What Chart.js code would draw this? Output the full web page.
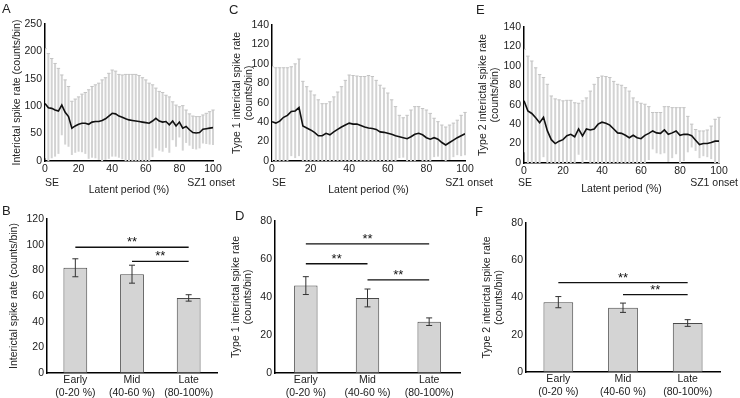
<!DOCTYPE html>
<html lang="en">
<head>
  <meta charset="UTF-8">
  <title>Interictal spike rate across the latent period</title>
  <script src="https://cdn.jsdelivr.net/npm/chart.js"></script>
  <style>
    body { margin: 0; background: #fff; }
    #fig {
      position: relative;
      width: 740px;
      height: 398px;
      overflow: hidden;
      font-family: "Liberation Sans", Arial, sans-serif;
    }
    #fig canvas { position: absolute; }
    .letter {
      position: absolute;
      font-size: 13px;
      color: #222;
      line-height: 13px;
    }
  </style>
</head>
<body>
<div id="fig">
  <canvas id="chartA" width="245" height="200" style="left:0;top:0"></canvas>
  <canvas id="chartC" width="275" height="200" style="left:225px;top:0"></canvas>
  <canvas id="chartE" width="270" height="200" style="left:470px;top:0"></canvas>
  <canvas id="chartB" width="235" height="198" style="left:0;top:200px"></canvas>
  <canvas id="chartD" width="250" height="198" style="left:225px;top:200px"></canvas>
  <canvas id="chartF" width="265" height="198" style="left:475px;top:200px"></canvas>
  <div class="letter" style="left:2px;top:2px">A</div>
  <div class="letter" style="left:229px;top:3px">C</div>
  <div class="letter" style="left:476px;top:3px">E</div>
  <div class="letter" style="left:2px;top:204px">B</div>
  <div class="letter" style="left:235px;top:209px">D</div>
  <div class="letter" style="left:475px;top:205px">F</div>
</div>

<script>
  // latent period bins (%)
  var latentPct = [0, 2, 4, 6, 8, 10, 12, 14, 16, 18, 20, 22, 24, 26, 28, 30, 32, 34, 36, 38, 40,
    42, 44, 46, 48, 50, 52, 54, 56, 58, 60, 62, 64, 66, 68, 70, 72, 74, 76, 78, 80,
    82, 84, 86, 88, 90, 92, 94, 96, 98, 100];

  // A: all interictal spikes, mean and SD (counts/bin)
  var meanA = [105, 97, 96, 93, 91, 102, 89, 81, 60, 64, 67, 69, 69, 67, 71, 72, 72, 74, 77, 82, 87,
    86, 82, 80, 77, 75, 74, 73, 72, 71, 70, 69, 73, 78, 73, 71, 72, 66, 73, 64, 71,
    60, 63, 57, 52, 51, 52, 58, 59, 60, 61];
  var sdA = [100, 99, 91, 85, 78, 55, 59, 55, 49, 49, 50, 53, 56, 63, 65, 67, 70, 74, 75, 78, 79,
    78, 76, 77, 81, 83, 84, 85, 84, 81, 78, 73, 66, 55, 54, 54, 48, 51, 35, 38, 28,
    41, 30, 29, 30, 30, 29, 26, 28, 30, 32];

  // C: type 1 spikes
  var meanC = [40.5, 39, 41, 45, 47, 51, 51.5, 55, 36, 34, 32, 29.5, 26, 26, 28.5, 27, 30, 32.5, 35, 37, 39,
    38, 38, 36.5, 35, 34, 33.5, 32.5, 30, 29.5, 28.5, 27.5, 26, 25, 24, 23, 25, 27.5, 28.5, 27, 24,
    22.5, 24, 22.5, 19, 16.5, 19, 21.5, 24, 26, 28];
  var sdC = [56.5, 57, 55, 51, 49, 46, 48.5, 50, 46, 42.5, 40, 38.5, 37, 33, 30.5, 34, 36, 38.5, 41.5, 46, 49.5,
    50, 49.5, 50.5, 52, 54, 53.5, 50.5, 48, 45.5, 41.5, 35.5, 30, 22, 20.5, 24, 27.5, 28.5, 27.5, 27, 28.5,
    26.5, 20, 18, 18, 18.5, 18, 17.5, 18, 21, 22];

  // E: type 2 spikes
  var meanE = [64, 53.5, 51, 46.5, 41.5, 47, 33, 24, 20, 22.5, 24, 28, 29.5, 27, 35, 28, 35, 34, 35, 40, 42,
    41, 39, 35, 31, 30.5, 28.5, 26, 28.5, 26, 25, 28.5, 30.5, 33, 31, 30.5, 34, 29.5, 31, 33, 28.5,
    29.5, 29.5, 28, 23.5, 19, 20, 20, 21, 22.5, 22.5];
  var sdE = [53, 56.5, 54, 51.5, 49.5, 41, 48, 45, 46, 42.5, 40, 36.5, 35, 35, 26.5, 36, 32, 40, 46, 48, 47.5,
    48, 49, 49, 50, 49.5, 49, 48, 38.5, 37, 36.5, 32, 27.5, 19, 21, 21.5, 24, 28.5, 26, 24, 28.5,
    27.5, 18.5, 12, 11, 14, 13, 14, 17, 22.5, 24.5];

  // B, D, F: period means with error bars
  var periods = [['Early', '(0-20 %)'], ['Mid', '(40-60 %)'], ['Late', '(80-100%)']];
  var meanB = [82, 77, 58.5];
  var errB = [7, 7, 2.5];
  var meanD = [46, 39.5, 27];
  var errD = [4.7, 4.7, 2];
  var meanF = [37.5, 34.5, 26.3];
  var errF = [3, 2.5, 1.8];

  // significance brackets: [from period, to period, height]
  var sigB = [[0, 2, 98], [1, 2, 87]];
  var sigD = [[0, 2, 68], [0, 1, 57.5], [1, 2, 49]];
  var sigF = [[0, 2, 48], [1, 2, 41.5]];

  var FONT = '"Liberation Sans", Arial, sans-serif';
  var INK = '#222';

  // grey SD bars behind the mean line
  var sdBars = {
    id: 'sdBars',
    beforeDatasetsDraw: function (chart) {
      var ctx = chart.ctx, xs = chart.scales.x, ys = chart.scales.y, area = chart.chartArea;
      var ds = chart.data.datasets[0];
      ctx.save();
      ctx.beginPath();
      ctx.rect(area.left, area.top - 2, area.width + 3, area.height + 2);
      ctx.clip();
      ctx.strokeStyle = '#d3d3d3';
      ctx.lineWidth = 2;
      ds.data.forEach(function (p, i) {
        var x = xs.getPixelForValue(p.x);
        var hi = ys.getPixelForValue(p.y + ds.sd[i]);
        var lo = ys.getPixelForValue(Math.max(p.y - ds.sd[i], 0));
        ctx.beginPath();
        ctx.moveTo(x, hi); ctx.lineTo(x, lo);
        ctx.stroke();
      });
      // thin caps
      ctx.lineWidth = 1;
      ctx.strokeStyle = '#c4c4c4';
      ds.data.forEach(function (p, i) {
        var x = xs.getPixelForValue(p.x);
        var hi = ys.getPixelForValue(p.y + ds.sd[i]);
        ctx.beginPath();
        ctx.moveTo(x - 1.7, hi); ctx.lineTo(x + 1.7, hi);
        ctx.stroke();
      });
      ctx.restore();
    }
  };

  // error bars and ** brackets on the bar panels
  var barExtras = {
    id: 'barExtras',
    afterDatasetsDraw: function (chart) {
      var ctx = chart.ctx, xs = chart.scales.x, ys = chart.scales.y;
      var ds = chart.data.datasets[0];
      var bars = chart.getDatasetMeta(0).data;
      ctx.save();
      ctx.strokeStyle = '#333';
      ctx.lineWidth = 1;
      bars.forEach(function (bar, i) {
        var hi = ys.getPixelForValue(ds.data[i] + ds.err[i]);
        var lo = ys.getPixelForValue(ds.data[i] - ds.err[i]);
        ctx.beginPath();
        ctx.moveTo(bar.x, hi); ctx.lineTo(bar.x, lo);
        ctx.moveTo(bar.x - 3, hi); ctx.lineTo(bar.x + 3, hi);
        ctx.moveTo(bar.x - 3, lo); ctx.lineTo(bar.x + 3, lo);
        ctx.stroke();
      });
      ctx.strokeStyle = '#111';
      ctx.lineWidth = 1.3;
      ctx.fillStyle = '#111';
      ctx.font = '13px ' + FONT;
      ctx.textAlign = 'center';
      ctx.textBaseline = 'alphabetic';
      ds.sig.forEach(function (s) {
        var x1 = xs.getPixelForValue(s[0]), x2 = xs.getPixelForValue(s[1]);
        var y = ys.getPixelForValue(s[2]);
        ctx.beginPath();
        ctx.moveTo(x1, y); ctx.lineTo(x2, y);
        ctx.stroke();
        ctx.fillText('**', (x1 + x2) / 2, y - 1);
      });
      ctx.restore();
    }
  };

  function endLabels(seDx, szDx) {
    return {
      id: 'endLabels',
      afterDraw: function (chart) {
        var ctx = chart.ctx, area = chart.chartArea;
        ctx.save();
        ctx.fillStyle = INK;
        ctx.font = '10.5px ' + FONT;
        ctx.textBaseline = 'middle';
        ctx.textAlign = 'left';
        ctx.fillText('SE', area.left + seDx, 183);
        ctx.textAlign = 'right';
        ctx.fillText('SZ1 onset', area.right + szDx, 183);
        ctx.restore();
      }
    };
  }

  function tickFont() { return { family: FONT, size: 10.5 }; }

  function lineChart(id, mean, sd, yMax, yStep, yTitle, lay) {
    var pts = mean.map(function (m, i) { return { x: latentPct[i], y: m }; });
    return new Chart(document.getElementById(id), {
      type: 'line',
      data: {
        datasets: [{
          data: pts,
          sd: sd,
          borderColor: '#111',
          borderWidth: 1.6,
          pointRadius: 0,
          tension: 0,
          fill: false
        }]
      },
      options: {
        responsive: false,
        animation: false,
        events: [],
        layout: { padding: { left: 0, top: lay.top, right: lay.right, bottom: 0 } },
        plugins: { legend: { display: false }, tooltip: { enabled: false } },
        scales: {
          x: {
            type: 'linear', min: 0, max: 100,
            grid: { display: false, drawTicks: false },
            border: { color: '#000', width: 1.5 },
            ticks: { stepSize: 20, padding: 2, maxRotation: 0, color: INK, font: tickFont() },
            title: { display: true, text: 'Latent period (%)', color: INK, font: tickFont(),
                     padding: { top: 0, bottom: lay.xtPad } },
            afterFit: function (s) { s.height = lay.xh; }
          },
          y: {
            min: 0, max: yMax,
            grid: { display: false, drawTicks: false },
            border: { color: '#000', width: 1.5 },
            ticks: { stepSize: yStep, padding: 3, color: INK, font: tickFont() },
            title: { display: true, text: yTitle, color: INK, font: tickFont(),
                     padding: { top: lay.ytPad, bottom: 0 } },
            afterFit: function (s) { s.width = lay.yw; }
          }
        }
      },
      plugins: [sdBars, endLabels(lay.seDx, lay.szDx)]
    });
  }

  function barChart(id, mean, err, sig, yMax, yTitle, lay) {
    return new Chart(document.getElementById(id), {
      type: 'bar',
      data: {
        labels: periods,
        datasets: [{
          data: mean,
          err: err,
          sig: sig,
          backgroundColor: '#d4d4d4',
          borderColor: '#4a4a4a',
          borderWidth: 1,
          borderSkipped: false,
          barPercentage: lay.bp,
          categoryPercentage: 1
        }]
      },
      options: {
        responsive: false,
        animation: false,
        events: [],
        layout: { padding: { left: 0, top: lay.top, right: lay.right, bottom: 0 } },
        plugins: { legend: { display: false }, tooltip: { enabled: false } },
        scales: {
          x: {
            grid: { display: false, drawTicks: false },
            border: { color: '#000', width: 1.5 },
            ticks: { padding: 1, maxRotation: 0, color: INK, font: tickFont() },
            afterFit: function (s) { s.height = lay.xh; }
          },
          y: {
            min: 0, max: yMax,
            grid: { display: false, drawTicks: false },
            border: { color: '#000', width: 1.5 },
            ticks: { stepSize: 20, padding: 3, color: INK, font: tickFont() },
            title: { display: true, text: yTitle, color: INK, font: tickFont(),
                     padding: { top: lay.ytPad, bottom: 0 } },
            afterFit: function (s) { s.width = lay.yw; }
          }
        }
      },
      plugins: [barExtras]
    });
  }

  var yTitleAll = 'Interictal spike rate (counts/bin)';
  var yTitle1 = ['Type 1 interictal spike rate', '(counts/bin)'];
  var yTitle2 = ['Type 2 interictal spike rate', '(counts/bin)'];

  lineChart('chartA', meanA, sdA, 250, 50, yTitleAll,
    { top: 24, right: 32, xh: 39, yw: 45, xtPad: 3.7, ytPad: 10.7, seDx: 0, szDx: 22 });
  lineChart('chartC', meanC, sdC, 140, 20, yTitle1,
    { top: 25, right: 35, xh: 39, yw: 47, xtPad: 3.7, ytPad: 5.7, seDx: 0, szDx: 28 });
  lineChart('chartE', meanE, sdE, 140, 20, yTitle2,
    { top: 27, right: 21, xh: 37, yw: 54, xtPad: 4.7, ytPad: 6.7, seDx: -6, szDx: 19 });

  barChart('chartB', meanB, errB, sigB, 120, yTitleAll,
    { top: 19, right: 18, xh: 25, yw: 47, ytPad: 7.7, bp: 0.42 });
  barChart('chartD', meanD, errD, sigD, 80, yTitle1,
    { top: 21, right: 15, xh: 25, yw: 50, ytPad: 4.7, bp: 0.38 });
  barChart('chartF', meanF, errF, sigF, 80, yTitle2,
    { top: 23, right: 20, xh: 26, yw: 51, ytPad: 5.7, bp: 0.46 });
</script>
</body>
</html>
